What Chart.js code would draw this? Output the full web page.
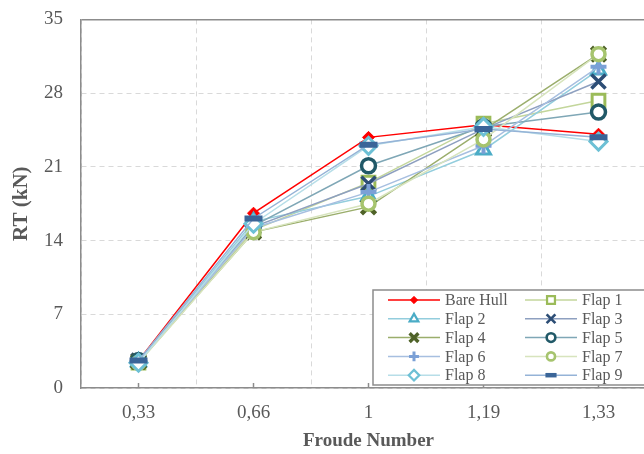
<!DOCTYPE html>
<html>
<head>
<meta charset="utf-8">
<title>RT vs Froude Number</title>
<script src="https://cdn.jsdelivr.net/npm/chart.js@4.4.1/dist/chart.umd.min.js"></script>
<style>
  html, body { margin: 0; padding: 0; background: #fff; overflow: hidden; }
  #wrap { width: 664px; height: 464px; margin-top: -10px; }
</style>
</head>
<body>
<div id="wrap"><canvas id="rt" width="664" height="464"></canvas></div>
<script>
// values
const froude = ['0,33', '0,66', '1', '1,19', '1,33'];
const bareHull = [2.6, 16.6, 23.8, 25.0, 24.1];
const flap1 = [2.4, 15.0, 19.5, 25.1, 27.3];
const flap2 = [2.5, 15.8, 18.2, 22.6, 30.2];
const flap3 = [2.6, 15.3, 19.4, 24.6, 29.1];
const flap4 = [2.5, 14.8, 17.2, 24.5, 31.7];
const flap5 = [2.6, 15.4, 21.1, 24.8, 26.2];
const flap6 = [2.5, 15.2, 18.6, 23.0, 30.5];
const flap7 = [2.4, 14.8, 17.5, 23.6, 31.7];
const flap8 = [2.4, 15.6, 23.0, 24.8, 23.4];
const flap9 = [2.6, 16.1, 23.1, 24.6, 23.8];
const seriesNames = ['Bare Hull', 'Flap 1', 'Flap 2', 'Flap 3', 'Flap 4', 'Flap 5', 'Flap 6', 'Flap 7', 'Flap 8', 'Flap 9'];
const seriesData = [bareHull, flap1, flap2, flap3, flap4, flap5, flap6, flap7, flap8, flap9];
const yMin = 0, yMax = 35, yStep = 7;

// look of each series (line colour, marker colour, marker shape)
const looks = [
  { line: '#ff0000', mark: '#ff0000', shape: 'rectRot',  r: 6,   bw: 1,   fill: '#ff0000' },
  { line: '#c3d69b', mark: '#9bbb59', shape: 'rect',     r: 9,   bw: 3,   fill: '#fff' },
  { line: '#93cddd', mark: '#4bacc6', shape: 'triangle', r: 8,   bw: 3,   fill: '#fff' },
  { line: '#8ea0c0', mark: '#2c4d75', shape: 'crossRot', r: 10,  bw: 3.5, fill: '#fff' },
  { line: '#9bae6c', mark: '#4f6228', shape: 'crossRot', r: 10,  bw: 4.5, fill: '#fff' },
  { line: '#7fa7b6', mark: '#215968', shape: 'circle',   r: 7,   bw: 3.5, fill: '#fff' },
  { line: '#a7bfe0', mark: '#7ba0d6', shape: 'cross',    r: 8,   bw: 4,   fill: '#fff' },
  { line: '#d7e4bd', mark: '#a6c46e', shape: 'circle',   r: 6.5, bw: 3.5, fill: '#fff' },
  { line: '#b7dee8', mark: '#6dc0d5', shape: 'rectRot',  r: 8.5, bw: 3,   fill: '#fff' },
  { line: '#95b3d7', mark: '#3a6598', shape: 'line',     r: 9,   bw: 6,   fill: '#3a6598' }
];

const FONT = "'Liberation Serif', 'Times New Roman', serif";
const TEXT = '#595959';
const AXIS = '#8c8c8c';
const GRID = '#d9d9d9';

Chart.defaults.font.family = FONT;
Chart.defaults.color = TEXT;

const datasets = seriesNames.map((name, i) => ({
  label: name,
  data: seriesData[i],
  borderColor: looks[i].line,
  backgroundColor: looks[i].line,
  borderWidth: 1.5,
  tension: 0,
  pointStyle: looks[i].shape,
  pointRadius: looks[i].r,
  pointBorderWidth: looks[i].bw,
  pointBorderColor: looks[i].mark,
  pointBackgroundColor: looks[i].fill,
  order: seriesNames.length - i
}));

// small inside tick marks at each category
const innerTicks = {
  id: 'innerTicks',
  beforeDatasetsDraw(chart) {
    const { ctx, scales: { x }, chartArea } = chart;
    ctx.save();
    ctx.strokeStyle = AXIS;
    ctx.lineWidth = 1.5;
    froude.forEach((_, i) => {
      const px = x.getPixelForValue(i);
      ctx.beginPath();
      ctx.moveTo(px, chartArea.bottom - 5);
      ctx.lineTo(px, chartArea.bottom);
      ctx.stroke();
    });
    ctx.restore();
  }
};

// two-column legend boxed inside the plot, lower right
const legendBox = {
  id: 'legendBox',
  afterDraw(chart) {
    const ctx = chart.ctx;
    const bottom = chart.chartArea.bottom - 3, top = bottom - 95, left = 373;
    ctx.save();
    ctx.fillStyle = '#fff';
    ctx.fillRect(left, top, 320, bottom - top);
    ctx.strokeStyle = AXIS;
    ctx.lineWidth = 1.5;
    ctx.strokeRect(left, top, 320, bottom - top);
    ctx.font = '16px ' + FONT;
    ctx.textBaseline = 'middle';
    ctx.textAlign = 'left';
    const cols = [388, 525];
    seriesNames.forEach((name, i) => {
      const c = i % 2, row = Math.floor(i / 2);
      const x0 = cols[c], y = top + 10 + row * 18.8;
      const lk = looks[i];
      ctx.strokeStyle = lk.line;
      ctx.lineWidth = 1.5;
      ctx.beginPath();
      ctx.moveTo(x0, y);
      ctx.lineTo(x0 + 52, y);
      ctx.stroke();
      ctx.fillStyle = lk.fill;
      ctx.strokeStyle = lk.mark;
      ctx.lineWidth = lk.bw * 0.75;
      Chart.helpers.drawPoint(ctx, { pointStyle: lk.shape, radius: lk.r * 0.62, rotation: 0, borderWidth: lk.bw * 0.75 }, x0 + 26, y);
      ctx.fillStyle = TEXT;
      ctx.fillText(name, x0 + 57, y + 1);
    });
    ctx.restore();
  }
};

new Chart(document.getElementById('rt'), {
  type: 'line',
  data: { labels: froude, datasets },
  plugins: [innerTicks, legendBox],
  options: {
    responsive: false,
    animation: false,
    layout: { autoPadding: false, padding: { top: 0, right: 8, bottom: 0, left: 0 } },
    plugins: { legend: { display: false }, tooltip: { enabled: false } },
    scales: {
      x: {
        type: 'category',
        offset: true,
        grid: { offset: true, color: GRID, lineWidth: 1, drawTicks: false },
        border: { color: AXIS, width: 1.5, dash: [5, 4] },
        ticks: { padding: 14, color: TEXT, font: { size: 19 } },
        title: { display: true, text: 'Froude Number', color: TEXT, font: { size: 19, weight: 'bold' }, padding: { top: 0, bottom: 2 } },
        afterFit(s) { s.height = 66; }
      },
      y: {
        min: yMin,
        max: yMax,
        ticks: { stepSize: yStep, padding: 18, color: TEXT, font: { size: 19 } },
        grid: {
          drawTicks: false,
          color: c => (c.tick && c.tick.value === yMax ? AXIS : GRID),
          lineWidth: c => (c.tick && c.tick.value === yMax ? 1.5 : 1)
        },
        border: {
          color: AXIS,
          width: 1.5,
          dash: c => (c.tick && c.tick.value === yMax ? [] : [5, 4])
        },
        title: { display: true, text: 'RT (kN)', color: TEXT, font: { size: 21, weight: 'bold' }, padding: { top: 9 } },
        afterFit(s) { s.width = 81; }
      }
    }
  }
});
</script>
</body>
</html>
